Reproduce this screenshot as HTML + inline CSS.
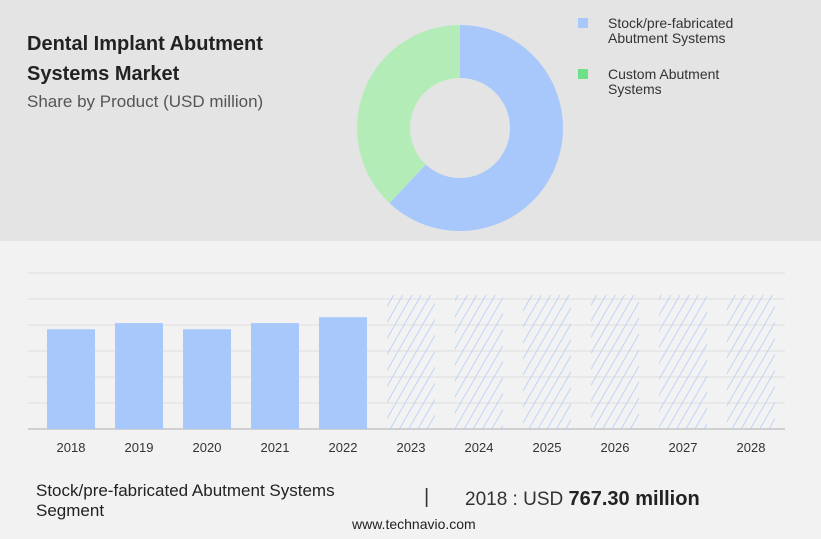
<!DOCTYPE html>
<html><head><meta charset="utf-8"><style>
body{margin:0;width:821px;height:539px;overflow:hidden;background:#f2f2f2;font-family:"Liberation Sans",sans-serif;position:relative}
.t{position:absolute;white-space:nowrap}
</style></head><body>
<div style="position:absolute;left:0;top:0;width:821px;height:241px;background:#e4e4e4"></div>
<div class="t" style="left:27px;top:29px;font-size:20px;font-weight:bold;color:#222;line-height:30px">Dental Implant Abutment<br>Systems Market</div>
<div class="t" style="left:27px;top:92px;font-size:17px;color:#555">Share by Product (USD million)</div>
<svg width="821" height="539" style="position:absolute;left:0;top:0">
<defs>
<clipPath id="clipTop"><rect x="0" y="0" width="821" height="231"/></clipPath>
<pattern id="hatch" width="8" height="8" patternUnits="userSpaceOnUse" patternTransform="rotate(30)"><line x1="0" y1="0" x2="0" y2="8" stroke="#a8c8fc" stroke-width="1.4"/></pattern>
</defs>
<g id="donut" clip-path="url(#clipTop)"></g>
<g id="legend">
<rect x="578" y="18" width="10" height="10" fill="#a8c8fc"/>
<text x="608" y="28" font-size="14" fill="#333">Stock/pre-fabricated</text>
<text x="608" y="43" font-size="14" fill="#333">Abutment Systems</text>
<rect x="578" y="69" width="10" height="10" fill="#6ee08a"/>
<text x="608" y="79" font-size="14" fill="#333">Custom Abutment</text>
<text x="608" y="94" font-size="14" fill="#333">Systems</text>
</g>
<g id="bars"></g>
</svg>
<div class="t" style="left:36px;top:481px;font-size:17px;color:#222;line-height:20px">Stock/pre-fabricated Abutment Systems<br>Segment</div>
<div class="t" style="left:424px;top:486px;font-size:20px;color:#333">|</div>
<div class="t" style="left:465px;top:488px;font-size:19px;color:#333">2018 : USD <b style="font-size:20px;color:#222">767.30 million</b></div>
<div class="t" style="left:352px;top:516px;font-size:14px;color:#222">www.technavio.com</div>
<script>
const shareLabels=["Stock/pre-fabricated Abutment Systems","Custom Abutment Systems"];
const shareValues=[62,38];
const shareColors=["#a8c8fc","#b4ecb8"];
const years=["2018","2019","2020","2021","2022","2023","2024","2025","2026","2027","2028"];
const values=[767.3,815,767,815,860,1030,1030,1030,1030,1030,1030];
const forecast=[false,false,false,false,false,true,true,true,true,true,true];
const gridTicks=[0,200,400,600,800,1000,1200];
const NS="http://www.w3.org/2000/svg";
function mk(t,a,p){const e=document.createElementNS(NS,t);for(const k in a)e.setAttribute(k,a[k]);p.appendChild(e);return e;}
const dg=document.getElementById('donut');
const cx=460,cy=128,R=103,r=50;
const tot=shareValues.reduce((a,b)=>a+b,0);
let a0=0;
shareValues.forEach((v,i)=>{
 const a1=a0+v/tot*2*Math.PI;
 const p=(ang,rad)=>[cx+rad*Math.sin(ang),cy-rad*Math.cos(ang)];
 const [x1,y1]=p(a0,R),[x2,y2]=p(a1,R),[x3,y3]=p(a1,r),[x4,y4]=p(a0,r);
 const lg=(a1-a0)>Math.PI?1:0;
 const s=mk('path',{d:`M${x1},${y1}A${R},${R} 0 ${lg} 1 ${x2},${y2}L${x3},${y3}A${r},${r} 0 ${lg} 0 ${x4},${y4}Z`,fill:shareColors[i]},dg);
 
 
 a0=a1;
});
const bg=document.getElementById('bars');
const x0=28,x1=785,base=429,ymax=1200,plotH=156;
const yS=v=>base-v/ymax*plotH;
const step=68,first=71,bw=48;
const xS=i=>first+i*step;
gridTicks.forEach(t=>{
 const l=mk('line',{x1:x0,x2:x1,y1:yS(t),y2:yS(t),stroke:t===0?'#d0d0d0':'#dedede','stroke-width':t===0?2:1},bg);
 
 
});
years.forEach((y,i)=>{
 const b=mk('rect',{x:xS(i)-bw/2,y:yS(values[i]),width:bw,height:base-yS(values[i]),fill:forecast[i]?'url(#hatch)':'#a8c8fc'},bg);
 
 
 const t=mk('text',{x:xS(i),y:452,'font-size':13,'text-anchor':'middle',fill:'#333'},bg);
 t.textContent=y;
 
 
});
</script>
</body></html>
